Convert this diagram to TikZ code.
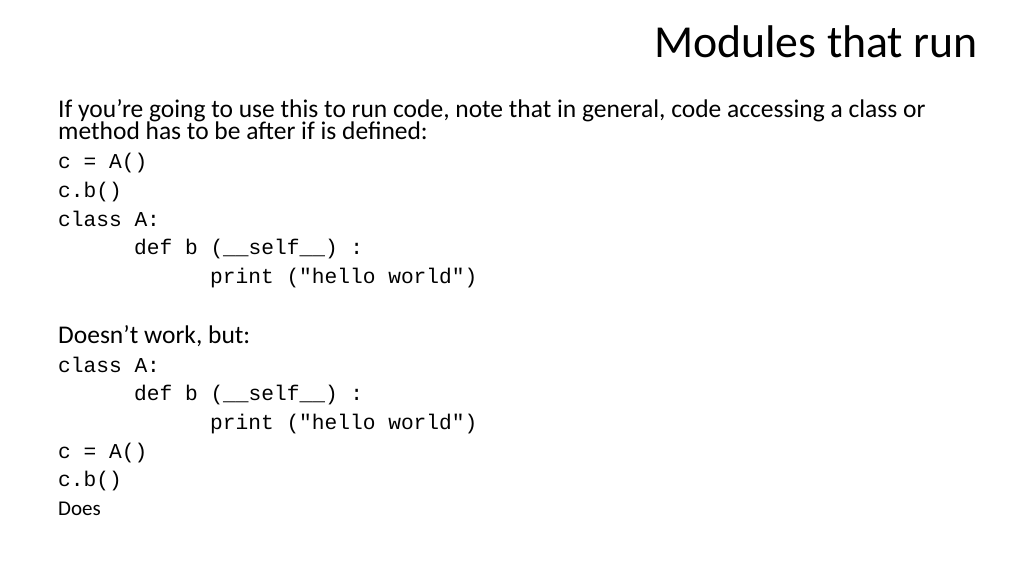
\documentclass[tikz,border=0pt]{standalone}
\usepackage{fontspec}
\setmainfont{Carlito}
\setmonofont{Liberation Mono}
\tikzset{
  body/.style={anchor=base west, inner sep=0pt, font=\fontsize{25.5}{25.5}\selectfont},
  code/.style={anchor=base west, inner sep=0pt, font=\fontsize{21.2}{21.2}\ttfamily},
}
\begin{document}
\begin{tikzpicture}[x=1pt,y=-1pt]
\useasboundingbox[fill=white] (0,0) rectangle (1024,576);
\node [anchor=base east, inner sep=0pt, font=\fontsize{45.8}{45.8}\selectfont] (title) at (978,57) {Modules that run};
\node [body] (intro1) at (58,117) {If you{\char39}re going to use this to run code, note that in general, code accessing a class or};
\node [body] (intro2) at (58,139) {method has to be after if is defined:};
% first listing
\node [code] (ca1) at (58,168) {c = A()};
\node [code] (cb1) at (58,197) {c.b()};
\node [code] (cls1) at (58,226) {class A:};
\node [code] (def1) at (134,254) {def b (\_\_self\_\_) :};
\node [code] (prt1) at (210,283) {print ("hello world")};
\node [body] (fail) at (58,343) {Doesn’t work, but:};
% second listing
\node [code] (cls2) at (58,372) {class A:};
\node [code] (def2) at (134,400) {def b (\_\_self\_\_) :};
\node [code] (prt2) at (210,429) {print ("hello world")};
\node [code] (ca2) at (58,458) {c = A()};
\node [code] (cb2) at (58,486) {c.b()};
\node [anchor=base west, inner sep=0pt, font=\fontsize{21}{21}\selectfont] (works) at (58,515) {Does};
\end{tikzpicture}
\end{document}
